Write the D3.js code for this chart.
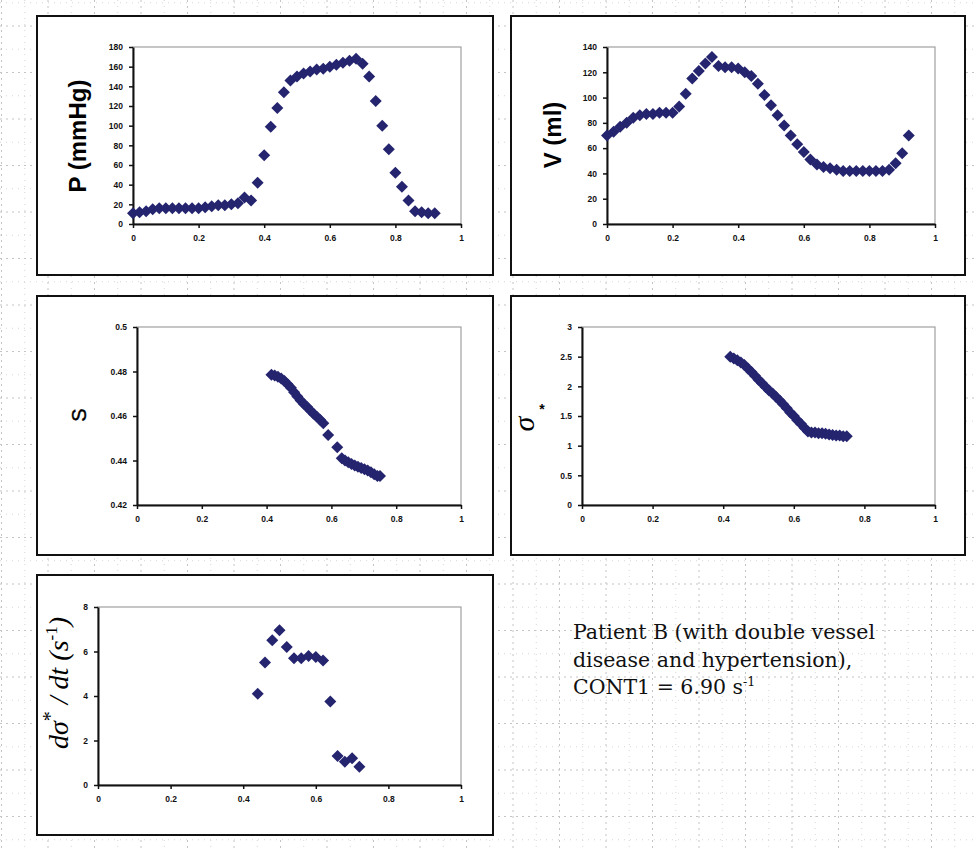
<!DOCTYPE html>
<html><head><meta charset="utf-8">
<script src="https://cdn.jsdelivr.net/npm/d3@7"></script>
<style>body{margin:0;background:#fff}svg{display:block}</style>
</head><body>
<svg id="c" width="976" height="848"></svg>
<script>
// ---------- data ----------
const xTicks = [0, 0.2, 0.4, 0.6, 0.8, 1];

const tP = [0,0.02,0.04,0.06,0.08,0.1,0.12,0.14,0.16,0.18,0.2,0.22,0.24,0.26,0.28,0.3,0.32,0.34,0.36,0.38,0.4,0.42,0.44,0.46,0.48,0.5,0.52,0.54,0.56,0.58,0.6,0.62,0.64,0.66,0.68,0.7,0.72,0.74,0.76,0.78,0.8,0.82,0.84,0.86,0.88,0.9,0.92];
const pressure = [11,12,13,15,16,16,16,16,16,16,16,17,18,19,19,20,21,27,24,42,70,99,118,134,146,150,153,155,157,158,160,162,164,166,168,163,150,125,100,76,52,38,24,13,12,11,11];
const pTicks = [0,20,40,60,80,100,120,140,160,180];

const tV = [0,0.02,0.04,0.06,0.08,0.1,0.12,0.14,0.16,0.18,0.2,0.22,0.24,0.26,0.28,0.3,0.32,0.34,0.36,0.38,0.4,0.42,0.44,0.46,0.48,0.5,0.52,0.54,0.56,0.58,0.6,0.62,0.64,0.66,0.68,0.7,0.72,0.74,0.76,0.78,0.8,0.82,0.84,0.86,0.88,0.9,0.92];
const volume = [70,73,77,80,84,86,87,87,88,88,88,93,103,115,121,127,132,125,124,124,123,120,117,111,102,94,86,78,70,63,57,51,47,45,44,43,42,42,42,42,42,42,42,43,48,56,70];
const vTicks = [0,20,40,60,80,100,120,140];

const tS = [0.415,0.425,0.435,0.445,0.455,0.465,0.475,0.485,0.495,0.505,0.515,0.525,0.535,0.545,0.555,0.565,0.575,0.59,0.618,0.632,0.642,0.652,0.662,0.672,0.682,0.692,0.702,0.712,0.722,0.732,0.742,0.75];
const sValues = [0.4785,0.4782,0.4776,0.4768,0.4757,0.4743,0.4727,0.4707,0.4688,0.467,0.4654,0.464,0.4625,0.461,0.4597,0.4583,0.4567,0.4515,0.4459,0.441,0.44,0.4392,0.4384,0.4377,0.4372,0.4366,0.4361,0.4355,0.4347,0.4338,0.433,0.433];
const sTicks = [0.42,0.44,0.46,0.48,0.5];

const tSig = [0.42,0.43,0.44,0.45,0.46,0.47,0.48,0.49,0.5,0.51,0.52,0.53,0.54,0.55,0.56,0.57,0.58,0.59,0.6,0.61,0.62,0.63,0.64,0.65,0.66,0.67,0.68,0.69,0.7,0.71,0.72,0.73,0.74,0.75];
const sigma = [2.5,2.47,2.44,2.4,2.36,2.3,2.24,2.18,2.11,2.05,1.99,1.93,1.88,1.82,1.76,1.7,1.63,1.56,1.5,1.43,1.37,1.3,1.24,1.22,1.22,1.21,1.21,1.2,1.19,1.18,1.17,1.17,1.16,1.16];
const sigTicks = [0,0.5,1,1.5,2,2.5,3];

const tDs = [0.44,0.46,0.48,0.5,0.52,0.54,0.56,0.58,0.6,0.62,0.64,0.66,0.68,0.7,0.72];
const dSigma = [4.1,5.5,6.5,6.95,6.2,5.7,5.7,5.8,5.75,5.6,3.75,1.3,1.05,1.2,0.82];
const dsTicks = [0,2,4,6,8];

const noteLines = ["Patient B (with double vessel", "disease and hypertension),"];

// ---------- drawing ----------
const svg = d3.select("#c");
const W = 976, H = 848, step = 23.25;

// dotted page grid
const grid = svg.append("g");
for (let k = 0; 1.5 + k*step < W; k++) {
  const x = 1.5 + k*step;
  grid.append("line").attr("x1",x).attr("x2",x).attr("y1",0).attr("y2",H)
    .attr("stroke", k%2===0 ? "#c4c4c4" : "#d6d6d6").attr("stroke-width",1)
    .attr("stroke-dasharray", k%2===0 ? "2,4" : "1,5");
}
for (let k = 0; 2.75 + k*step < H; k++) {
  const y = 2.75 + k*step;
  grid.append("line").attr("y1",y).attr("y2",y).attr("x1",0).attr("x2",W)
    .attr("stroke", k%2===1 ? "#c4c4c4" : "#d6d6d6").attr("stroke-width",1)
    .attr("stroke-dasharray", k%2===1 ? "2,4" : "1,5");
}

const fmt = d => String(+d.toFixed(2));
const color = "#24246f";
const diamond = d3.symbol().type(d3.symbolSquare).size(72);

function panel(cfg) {
  const g = svg.append("g");
  g.append("rect").attr("x",cfg.box[0]).attr("y",cfg.box[1])
    .attr("width",cfg.box[2]-cfg.box[0]).attr("height",cfg.box[3]-cfg.box[1])
    .attr("fill","#fff").attr("stroke","#111").attr("stroke-width",2);
  const x = d3.scaleLinear().domain([0,1]).range([cfg.px[0], cfg.px[1]]);
  const y = d3.scaleLinear().domain(cfg.yd).range([cfg.py[1], cfg.py[0]]);
  g.append("rect").attr("x",cfg.px[0]).attr("y",cfg.py[0])
    .attr("width",cfg.px[1]-cfg.px[0]).attr("height",cfg.py[1]-cfg.py[0])
    .attr("fill","none").attr("stroke","#a0a0a0").attr("stroke-width",1.2);
  const ax = g.append("g").attr("transform",`translate(0,${cfg.py[1]})`)
    .call(d3.axisBottom(x).tickValues(xTicks).tickFormat(fmt).tickSize(4).tickSizeOuter(0).tickPadding(7));
  const ay = g.append("g").attr("transform",`translate(${cfg.px[0]},0)`)
    .call(d3.axisLeft(y).tickValues(cfg.yt).tickFormat(fmt).tickSize(4).tickSizeOuter(0).tickPadding(6));
  [ax, ay].forEach(a => {
    a.select(".domain").attr("stroke","#111").attr("stroke-width",2);
    a.selectAll(".tick line").attr("stroke","#111").attr("stroke-width",1.5);
    a.selectAll(".tick text").attr("font-family","Liberation Sans, Arial, sans-serif")
      .attr("font-size",8.5).attr("font-weight","bold").attr("fill","#111");
  });
  g.append("g").selectAll("path").data(cfg.t.map((t,i)=>[t,cfg.v[i]])).join("path")
    .attr("d", diamond)
    .attr("transform", d => `translate(${x(d[0])},${y(d[1])}) rotate(45)`)
    .attr("fill", color);
  return g;
}

panel({box:[37,16,493,275], px:[133,461], py:[47,224], yd:[0,180], yt:pTicks, t:tP, v:pressure});
panel({box:[511,16,965,275], px:[607,935], py:[47,224], yd:[0,140], yt:vTicks, t:tV, v:volume});
panel({box:[37,296,493,555], px:[137,461], py:[327,505], yd:[0.42,0.5], yt:sTicks, t:tS, v:sValues});
panel({box:[511,296,965,555], px:[582,935], py:[327,505], yd:[0,3], yt:sigTicks, t:tSig, v:sigma});
panel({box:[37,575,493,835], px:[98,461], py:[607,785], yd:[0,8], yt:dsTicks, t:tDs, v:dSigma});

// axis titles
const sans = "Liberation Sans, Arial, sans-serif";
const serif = "Liberation Serif, Times New Roman, serif";
svg.append("text").attr("transform","translate(86,136) rotate(-90)").attr("text-anchor","middle")
  .attr("font-family",sans).attr("font-weight","bold").attr("font-size",24).text("P (mmHg)");
svg.append("text").attr("transform","translate(561,135) rotate(-90)").attr("text-anchor","middle")
  .attr("font-family",sans).attr("font-weight","bold").attr("font-size",24).text("V (ml)");
svg.append("text").attr("transform","translate(86,415) rotate(-90)").attr("text-anchor","middle")
  .attr("font-family",sans).attr("font-size",20).attr("stroke","#000").attr("stroke-width",0.4).text("S");
svg.append("text").attr("transform","translate(534,424) rotate(-90)").attr("text-anchor","middle")
  .attr("font-family",serif).attr("font-style","italic").attr("font-size",30).text("σ");
svg.append("text").attr("x",542).attr("y",414).attr("text-anchor","middle")
  .attr("font-family",sans).attr("font-weight","bold").attr("font-size",14).text("*");

const t5 = svg.append("text").attr("transform","translate(68,683) rotate(-90)").attr("text-anchor","middle")
  .attr("font-family",serif).attr("font-style","italic").attr("font-size",28);
t5.append("tspan").text("dσ");
t5.append("tspan").attr("dy",-11).attr("font-size",20).attr("font-style","normal").text("*");
t5.append("tspan").attr("dy",11).text(" / dt (s");
t5.append("tspan").attr("dy",-11).attr("font-size",17).attr("font-style","normal").text("-1");
t5.append("tspan").attr("dy",11).text(")");

// annotation
const note = svg.append("g").attr("font-family","DejaVu Serif, serif").attr("font-size",20.5).attr("fill","#111");
noteLines.forEach((s,i) => note.append("text").attr("x",573).attr("y",639 + i*27.5).text(s));
const last = note.append("text").attr("x",573).attr("y",694);
last.append("tspan").text("CONT1 = 6.90 s");
last.append("tspan").attr("dy",-8).attr("font-size",12.5).text("-1");
</script>
</body></html>
